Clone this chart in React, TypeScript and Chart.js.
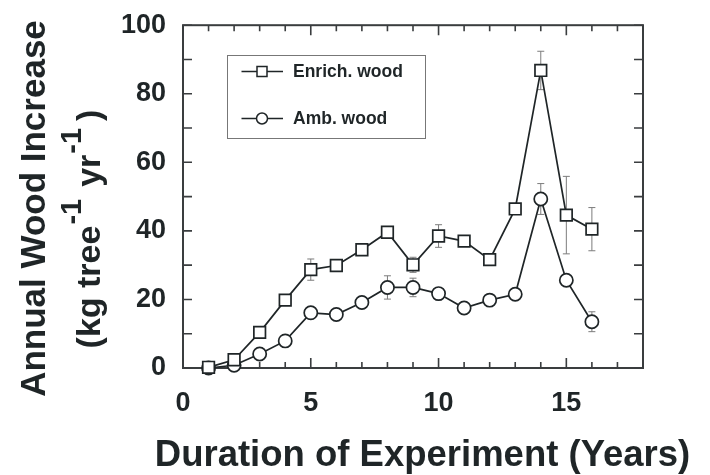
import React, { useEffect, useRef } from 'react';
import { Chart, registerables } from 'chart.js';

Chart.register(...registerables);

// ---- Data ----
const years = [1, 2, 3, 4, 5, 6, 7, 8, 9, 10, 11, 12, 13, 14, 15, 16];
const enrichedWood = [0.2, 2.4, 10.4, 19.8, 28.7, 29.9, 34.5, 39.6, 30.1, 38.5, 37.0, 31.6, 46.4, 86.8, 44.6, 40.5];
const enrichedErr = [0, 0, 0, 0, 3.1, 0, 0, 0, 2.2, 3.3, 0, 0, 0, 5.6, 11.3, 6.3];
const ambientWood = [0, 0.8, 4.1, 7.9, 16.1, 15.6, 19.1, 23.5, 23.5, 21.7, 17.5, 19.8, 21.5, 49.3, 25.6, 13.5];
const ambientErr = [0, 0, 0, 0, 0, 0, 0, 3.4, 2.7, 0, 0, 0, 1.2, 4.5, 0, 2.9];
const seriesLabels = ['Enrich. wood', 'Amb. wood'];
const xTickValues = [0, 5, 10, 15];
const yTickValues = [0, 20, 40, 60, 80, 100];
const xMinorTicks = [0, 1, 2, 3, 4, 5, 6, 7, 8, 9, 10, 11, 12, 13, 14, 15, 16, 17, 18];
const yMinorTicks = [0, 10, 20, 30, 40, 50, 60, 70, 80, 90, 100];
const xTitle = 'Duration of Experiment (Years)';
const yTitle1 = 'Annual Wood Increase';

const INK = '#1f2527';
const FRAME = '#3a3d3f';
const ERR = '#7c7c7c';
const FONT = '"Liberation Sans", Arial, Helvetica, sans-serif';

const decorPlugin = {
  id: 'decor',
  beforeDraw(chart: any) {
    const ctx = chart.ctx;
    ctx.save();
    ctx.fillStyle = '#ffffff';
    ctx.fillRect(0, 0, chart.width, chart.height);
    ctx.restore();
  },
  beforeDatasetsDraw(chart: any) {
    const ctx = chart.ctx;
    const { left, right, top, bottom } = chart.chartArea;
    const xs = chart.scales.x;
    const ys = chart.scales.y;
    ctx.save();
    // frame
    ctx.strokeStyle = FRAME;
    ctx.lineWidth = 2;
    ctx.strokeRect(left, top, right - left, bottom - top);
    // inside ticks
    ctx.lineWidth = 1.6;
    xMinorTicks.forEach((v) => {
      const px = xs.getPixelForValue(v);
      const len = v % 5 === 0 ? 10 : 6;
      ctx.beginPath();
      ctx.moveTo(px, bottom);
      ctx.lineTo(px, bottom - len);
      ctx.moveTo(px, top);
      ctx.lineTo(px, top + len);
      ctx.stroke();
    });
    yMinorTicks.forEach((v) => {
      const py = ys.getPixelForValue(v);
      const len = 9;
      ctx.beginPath();
      ctx.moveTo(left, py);
      ctx.lineTo(left + len, py);
      ctx.moveTo(right, py);
      ctx.lineTo(right - len, py);
      ctx.stroke();
    });
    // error bars
    ctx.strokeStyle = ERR;
    ctx.lineWidth = 1;
    const drawErr = (vals: number[], errs: number[]) => {
      years.forEach((x, i) => {
        const e = errs[i];
        if (!e) return;
        const px = xs.getPixelForValue(x);
        const y1 = ys.getPixelForValue(vals[i] + e);
        const y2 = ys.getPixelForValue(vals[i] - e);
        ctx.beginPath();
        ctx.moveTo(px, y1);
        ctx.lineTo(px, y2);
        ctx.moveTo(px - 3.5, y1);
        ctx.lineTo(px + 3.5, y1);
        ctx.moveTo(px - 3.5, y2);
        ctx.lineTo(px + 3.5, y2);
        ctx.stroke();
      });
    };
    drawErr(enrichedWood, enrichedErr);
    drawErr(ambientWood, ambientErr);
    ctx.restore();
  },
  afterDraw(chart: any) {
    const ctx = chart.ctx;
    ctx.save();
    // legend
    ctx.strokeStyle = '#777777';
    ctx.lineWidth = 1;
    ctx.strokeRect(227.5, 55.5, 198, 83);
    const rows = [71.5, 118.5];
    ctx.font = `bold 17.5px ${FONT}`;
    ctx.textBaseline = 'middle';
    ctx.textAlign = 'left';
    rows.forEach((ry, i) => {
      ctx.strokeStyle = INK;
      ctx.lineWidth = 1.5;
      ctx.beginPath();
      ctx.moveTo(241.5, ry);
      ctx.lineTo(283, ry);
      ctx.stroke();
      ctx.fillStyle = '#ffffff';
      ctx.beginPath();
      if (i === 0) {
        ctx.rect(262 - 5, ry - 5, 10, 10);
      } else {
        ctx.arc(262, ry, 5.5, 0, Math.PI * 2);
      }
      ctx.fill();
      ctx.stroke();
      ctx.fillStyle = INK;
      ctx.fillText(seriesLabels[i], 293, ry + 1);
    });
    // x title
    ctx.fillStyle = INK;
    ctx.font = `bold 36.5px ${FONT}`;
    ctx.textAlign = 'center';
    ctx.textBaseline = 'alphabetic';
    ctx.fillText(xTitle, 422.5, 466);
    // y title line 1
    ctx.save();
    ctx.translate(45, 208.5);
    ctx.rotate(-Math.PI / 2);
    ctx.font = `bold 35px ${FONT}`;
    ctx.textAlign = 'center';
    ctx.fillText(yTitle1, 0, 0);
    ctx.restore();
    // y title line 2 with superscripts
    ctx.save();
    ctx.translate(100, 229);
    ctx.rotate(-Math.PI / 2);
    const main = `bold 34px ${FONT}`;
    const sup = `bold 29px ${FONT}`;
    // [text, font, raise, extra gap after]
    const pieces: [string, string, number, number][] = [
      ['(kg tree', main, 0, 1],
      ['-1', sup, -19, 12],
      ['yr', main, 0, 1],
      ['-1', sup, -19, 7],
      [')', main, 0, 0],
    ];
    let total = 0;
    const widths = pieces.map(([t, f, , g]) => {
      ctx.font = f;
      const w = ctx.measureText(t).width + g;
      total += w;
      return w;
    });
    let cx = -total / 2;
    ctx.textAlign = 'left';
    pieces.forEach(([t, f, dy], i) => {
      ctx.font = f;
      ctx.fillText(t, cx, dy);
      cx += widths[i];
    });
    ctx.restore();
    ctx.restore();
  },
};

export default function App() {
  const ref = useRef<HTMLCanvasElement | null>(null);
  useEffect(() => {
    if (!ref.current) return;
    const tickFont = { family: FONT, size: 27, weight: 'bold' as const };
    const chart = new Chart(ref.current, {
      type: 'line',
      data: {
        datasets: [
          {
            label: seriesLabels[0],
            data: years.map((x, i) => ({ x, y: enrichedWood[i] })),
            borderColor: INK,
            borderWidth: 1.7,
            pointStyle: 'rect',
            pointRadius: 8.2,
            pointBackgroundColor: '#ffffff',
            pointBorderColor: INK,
            pointBorderWidth: 1.7,
            tension: 0,
            clip: false as any,
          },
          {
            label: seriesLabels[1],
            data: years.map((x, i) => ({ x, y: ambientWood[i] })),
            borderColor: INK,
            borderWidth: 1.7,
            pointStyle: 'circle',
            pointRadius: 6.6,
            pointBackgroundColor: '#ffffff',
            pointBorderColor: INK,
            pointBorderWidth: 1.7,
            tension: 0,
            clip: false as any,
          },
        ],
      },
      options: {
        responsive: false,
        animation: false,
        layout: { padding: { top: 23, right: 67, left: 0, bottom: 0 } },
        plugins: { legend: { display: false }, tooltip: { enabled: false } },
        scales: {
          x: {
            type: 'linear',
            min: 0,
            max: 18,
            afterBuildTicks: (s: any) => {
              s.ticks = xTickValues.map((v) => ({ value: v }));
            },
            afterFit: (s: any) => {
              s.height = 107;
            },
            grid: { display: false },
            border: { display: false },
            ticks: { font: tickFont, color: INK, padding: 11, maxRotation: 0, autoSkip: false },
          },
          y: {
            type: 'linear',
            min: 0,
            max: 100,
            afterBuildTicks: (s: any) => {
              s.ticks = yTickValues.map((v) => ({ value: v }));
            },
            afterFit: (s: any) => {
              s.width = 183;
            },
            grid: { display: false },
            border: { display: false },
            ticks: { font: tickFont, color: INK, padding: 9, autoSkip: false },
          },
        },
      },
      plugins: [decorPlugin],
    });
    return () => chart.destroy();
  }, []);
  return (
    <div style={{ position: 'absolute', left: 0, top: 0, width: 710, height: 475 }}>
      <canvas ref={ref} width={710} height={475} style={{ display: 'block' }} />
    </div>
  );
}
